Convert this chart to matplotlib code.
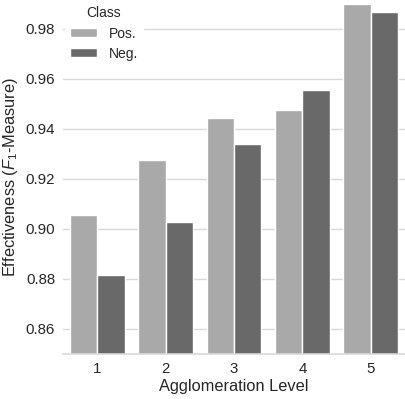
import matplotlib
matplotlib.use('Agg')
import matplotlib.pyplot as plt
import numpy as np

plt.rcParams['font.family'] = ['Liberation Sans', 'DejaVu Sans']
plt.rcParams['mathtext.fontset'] = 'custom'
plt.rcParams['mathtext.it'] = 'Liberation Sans:italic'
plt.rcParams['mathtext.rm'] = 'Liberation Sans'

# Data
levels = ['1', '2', '3', '4', '5']
classes = ['Pos.', 'Neg.']
pos_vals = [0.9056, 0.9276, 0.9445, 0.9477, 0.9900]
neg_vals = [0.8815, 0.9026, 0.9339, 0.9556, 0.9868]

C_POS = '#a9a9a9'
C_NEG = '#696969'
C_TEXT = '#262626'
C_GRID = '#d9d9d9'

fig = plt.figure(figsize=(4.06, 3.99), dpi=100)
ax = fig.add_axes([0.156, 0.113, 0.841, 0.887])

x = np.arange(len(levels))
w = 0.4
ax.bar(x - w / 2, pos_vals, w, color=C_POS, edgecolor='white', linewidth=1,
       label=classes[0], zorder=2)
ax.bar(x + w / 2, neg_vals, w, color=C_NEG, edgecolor='white', linewidth=1,
       label=classes[1], zorder=2)

ax.set_xlim(-0.5, len(levels) - 0.5)
ax.set_ylim(0.85, 0.9916)
ax.set_xticks(x)
ax.set_xticklabels(levels)
ax.set_yticks([0.86, 0.88, 0.90, 0.92, 0.94, 0.96, 0.98])
ax.yaxis.set_major_formatter(plt.FormatStrFormatter('%.2f'))

ax.grid(axis='y', color=C_GRID, linewidth=1, zorder=0)
ax.set_axisbelow(True)
for s in ['top', 'right', 'left']:
    ax.spines[s].set_visible(False)
ax.spines['bottom'].set_color(C_GRID)
ax.spines['bottom'].set_linewidth(1.2)
ax.tick_params(length=0, labelsize=10.8, colors=C_TEXT, pad=6)

ax.set_xlabel('Agglomeration Level', fontsize=11.8, color=C_TEXT, labelpad=2)
ax.set_ylabel('Effectiveness ($F_1$-Measure)', fontsize=11.8, color=C_TEXT,
              labelpad=4)

leg = ax.legend(title='Class', loc='upper left', bbox_to_anchor=(0.0, 1.0),
                fontsize=10, title_fontsize=10, frameon=True,
                facecolor='white', edgecolor='white', framealpha=1,
                handlelength=2.0, handleheight=0.6, handletextpad=0.8,
                borderpad=0.35, borderaxespad=0.1, labelspacing=0.45)
for t in leg.get_texts():
    t.set_color(C_TEXT)
leg.get_title().set_color(C_TEXT)

fig.savefig('out.png', dpi=100, facecolor='white')
